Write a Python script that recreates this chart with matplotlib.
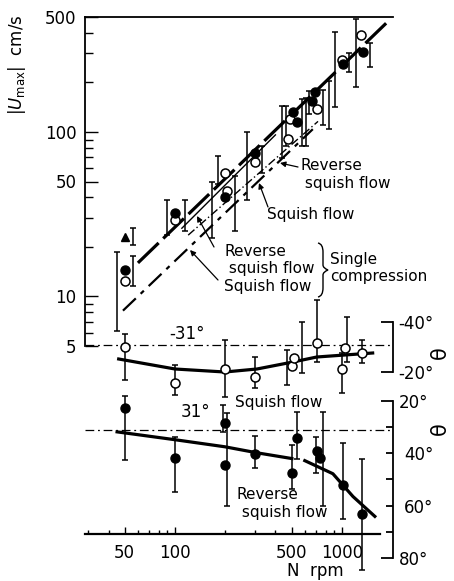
import matplotlib.pyplot as plt
from matplotlib.path import Path
from matplotlib.patches import PathPatch
from matplotlib.ticker import FixedLocator, FixedFormatter, NullFormatter, NullLocator

plt.rcParams['font.family'] = ['DejaVu Sans']
plt.rcParams['mathtext.fontset'] = 'dejavusans'

W, H = 454, 581

# |Umax| against engine speed: open = squish flow, filled = reverse squish flow
sq_n = [50, 100, 200, 205, 300, 476, 490, 708, 1000, 1300]
sq_u = [12.5, 29, 56, 43.5, 66, 91, 120, 137, 275, 390]
sq_bar_n = [45, 89, 181, 229, 332, 575, 608, 770, 905, 1210]
sq_lo = [6.2, 23.6, 48, 25, 56, 82, 82, 110, 141, 187]
sq_hi = [18.7, 38.4, 71, 54, 82, 158, 162, 181, 406, 487]

rv_n = [50, 100, 200, 300, 509, 538, 661, 688, 1013, 1335]
rv_u = [14.4, 32, 40.5, 74, 132, 115, 154, 174, 260, 307]
rv_bar_n = [56, 115, 166, 270, 437, 462, 640, 835, 1105, 1470]
rv_lo = [11.6, 25, 22.6, 38.4, 69, 82, 128, 104, 230, 250]
rv_hi = [17.6, 38.4, 50, 100, 143, 143, 178, 203, 303, 348]

tri_n = [50]
tri_u = [23]
tri_bar_n = [56]
tri_lo = [20.6]
tri_hi = [26]

# fitted lines (end points)
fit_rv_n, fit_rv_u = [60, 1850], [16, 460]
fit_sq_n, fit_sq_u = [120, 720], [23.6, 116]
single_rv_n, single_rv_u = [110, 400], [26, 96]
single_sq_n, single_sq_u = [48.8, 670], [8.2, 104]

# flow angle theta, squish flow
th_sq_n = [50, 100, 200, 300, 500, 520, 710, 1000, 1040, 1316]
th_sq = [-30, -15.6, -21.2, -18, -22.4, -25.6, -31.6, -21.2, -29.6, -27.6]
th_sq_bar_n = [50, 100, 200, 300, 470, 576, 710, 1000, 1070, 1316]
th_sq_lo = [-35.2, -22.8, -32.8, -26, -28.8, -40, -48.8, -27.6, -42, -32.8]
th_sq_hi = [-16.8, -10.8, -10, -13.6, -14.8, -19.6, -24, -11.6, -24, -23.6]
th_sq_fit_n = [46, 100, 199, 310, 509, 708, 1040, 1530]
th_sq_fit = [-25.2, -21.2, -20, -21.2, -24, -26, -26.8, -27.6]

# flow angle theta, reverse squish flow
th_rv_n = [50, 100, 200, 200, 300, 500, 540, 710, 740, 1020, 1330]
th_rv = [22.7, 41.7, 28.4, 44.3, 40.2, 47.4, 34, 39, 41.7, 52, 63.3]
th_rv_bar_n = [50, 100, 195, 205, 300, 500, 540, 700, 770, 1020, 1330]
th_rv_lo = [18, 33.7, 21.5, 24.6, 33.3, 36.7, 24.2, 33.7, 24.2, 36, 42]
th_rv_hi = [42.4, 54.6, 32, 60.3, 45.5, 53.8, 42.2, 47.4, 60.3, 65.2, 84.6]
th_rv_fit_a_n = [45, 100, 199, 310, 502]
th_rv_fit_a = [31.8, 34.8, 37.5, 39.8, 42]
th_rv_fit_b_n = [600, 884, 1166, 1577]
th_rv_fit_b = [42.8, 47.8, 56.5, 64.1]

TH_SQ_REF = -31
TH_RV_REF = 31
N_LIM = (28.9, 2026)


def box(x0, y0, x1, y1):
    return [x0 / W, 1 - y1 / H, (x1 - x0) / W, (y1 - y0) / H]


def fp(x, y):
    return (x / W, 1 - y / H)


def bars(ax, xb, lo, hi, lw=1.1):
    ax.errorbar(xb, lo, yerr=[[0] * len(lo), [h - l for l, h in zip(lo, hi)]],
                fmt='none', ecolor='black', elinewidth=lw, capsize=2.3,
                capthick=lw, zorder=2)


fig = plt.figure(figsize=(W / 100, H / 100), dpi=100)

# ---- upper panel: |Umax| ----
ax_u = fig.add_axes(box(85, 17, 393, 346))
ax_u.set_xscale('log')
ax_u.set_yscale('log')
ax_u.set_xlim(N_LIM)
ax_u.set_ylim(5, 500)
ax_u.patch.set_visible(False)
for s in ('right', 'bottom'):
    ax_u.spines[s].set_visible(False)
ax_u.spines['left'].set_linewidth(1.3)
ax_u.spines['top'].set_linewidth(1.3)
ax_u.xaxis.set_major_locator(NullLocator())
ax_u.xaxis.set_minor_locator(NullLocator())
ax_u.yaxis.set_major_locator(FixedLocator([5, 10, 50, 100, 500]))
ax_u.yaxis.set_major_formatter(FixedFormatter(['5', '10', '50', '100', '500']))
ax_u.yaxis.set_minor_locator(FixedLocator([6, 7, 8, 9, 20, 30, 40, 60, 70, 80, 90, 200, 300, 400]))
ax_u.yaxis.set_minor_formatter(NullFormatter())
ax_u.tick_params(axis='y', which='major', direction='in', length=9, width=1, labelsize=12, pad=6)
ax_u.tick_params(axis='y', which='minor', direction='in', length=6, width=1)

ax_u.plot(fit_rv_n, fit_rv_u, color='black', lw=2.3, ls=(0, (9, 2)), zorder=1)
ax_u.plot(fit_sq_n, fit_sq_u, color='black', lw=1.0, ls=(0, (6, 2, 1, 2)), zorder=1)
ax_u.plot(single_rv_n, single_rv_u, color='black', lw=1.0, zorder=1)
ax_u.plot(single_sq_n, single_sq_u, color='black', lw=1.6, ls=(0, (8, 3, 2, 3)), zorder=1)

bars(ax_u, sq_bar_n, sq_lo, sq_hi)
bars(ax_u, rv_bar_n, rv_lo, rv_hi)
bars(ax_u, tri_bar_n, tri_lo, tri_hi)
ax_u.plot(sq_n, sq_u, 'o', ms=6.5, mfc='white', mec='black', mew=1.1, zorder=3)
ax_u.plot(rv_n, rv_u, 'o', ms=6.5, color='black', zorder=4)
ax_u.plot(tri_n, tri_u, '^', ms=6, color='black', zorder=4)

# ---- middle panel: theta of squish flow ----
ax_s = fig.add_axes(box(85, 290, 393, 400))
ax_s.set_xscale('log')
ax_s.set_xlim(N_LIM)
ax_s.set_ylim(-8.8, -52.8)
ax_s.patch.set_visible(False)
for s in ('left', 'top', 'bottom'):
    ax_s.spines[s].set_visible(False)
ax_s.spines['right'].set_bounds(-40, -20)
ax_s.spines['right'].set_linewidth(1.3)
ax_s.xaxis.set_major_locator(NullLocator())
ax_s.xaxis.set_minor_locator(NullLocator())
ax_s.yaxis.tick_right()
ax_s.yaxis.set_major_locator(FixedLocator([-40, -20]))
ax_s.yaxis.set_major_formatter(FixedFormatter(['-40°', '-20°']))
ax_s.yaxis.set_minor_locator(NullLocator())
ax_s.tick_params(axis='y', direction='in', length=9, width=1.3, labelsize=12, pad=4)

ax_s.axhline(TH_SQ_REF, color='black', lw=0.9, ls=(0, (7, 3, 1.5, 3)), zorder=1)
ax_s.plot(th_sq_fit_n, th_sq_fit, color='black', lw=2.3, zorder=1)
bars(ax_s, th_sq_bar_n, th_sq_lo, th_sq_hi)
ax_s.plot(th_sq_n, th_sq, 'o', ms=6.5, mfc='white', mec='black', mew=1.1, zorder=3)

# ---- lower panel: theta of reverse squish flow, with the N axis ----
ax_r = fig.add_axes(box(85, 380, 393, 575))
ax_r.set_xscale('log')
ax_r.set_xlim(N_LIM)
ax_r.set_ylim(86.5, 11.98)
ax_r.patch.set_visible(False)
for s in ('left', 'top'):
    ax_r.spines[s].set_visible(False)
ax_r.spines['bottom'].set_position(('data', 70.8))
ax_r.spines['bottom'].set_bounds(28.9, 1690)
ax_r.spines['bottom'].set_linewidth(1.6)
ax_r.spines['right'].set_bounds(20, 80)
ax_r.spines['right'].set_linewidth(1.3)
ax_r.xaxis.set_major_locator(FixedLocator([50, 100, 500, 1000]))
ax_r.xaxis.set_major_formatter(FixedFormatter(['50', '100', '500', '1000']))
ax_r.xaxis.set_minor_locator(FixedLocator([30, 40, 60, 70, 80, 90, 200, 300, 400, 600, 700, 800, 900]))
ax_r.xaxis.set_minor_formatter(NullFormatter())
ax_r.tick_params(axis='x', which='major', direction='in', length=5, width=1, labelsize=12, pad=7)
ax_r.tick_params(axis='x', which='minor', direction='in', length=3, width=1)
ax_r.yaxis.tick_right()
ax_r.yaxis.set_major_locator(FixedLocator([20, 80]))
ax_r.yaxis.set_major_formatter(FixedFormatter(['20°', '80°']))
ax_r.yaxis.set_minor_locator(FixedLocator([30, 40, 50, 60, 70]))
ax_r.yaxis.set_minor_formatter(FixedFormatter(['', '40°', '', '60°', '']))
ax_r.tick_params(axis='y', which='major', direction='in', length=9, width=1.3, labelsize=12, pad=4)
ax_r.tick_params(axis='y', which='minor', direction='in', length=5, width=1.3, labelsize=12, pad=8)

ax_r.axhline(TH_RV_REF, color='black', lw=0.9, ls=(0, (7, 3, 1.5, 3)), zorder=1)
ax_r.plot(th_rv_fit_a_n, th_rv_fit_a, color='black', lw=2.3, zorder=1)
ax_r.plot(th_rv_fit_b_n, th_rv_fit_b, color='black', lw=2.3, zorder=1)
bars(ax_r, th_rv_bar_n, th_rv_lo, th_rv_hi)
ax_r.plot(th_rv_n, th_rv, 'o', ms=6.5, color='black', zorder=3)

# ---- labels ----
fig.text(*fp(17, 65), r'$|U_{\rm max}|$  cm/s', rotation=90, ha='center', va='center', fontsize=12)
fig.text(*fp(440, 353), 'θ', rotation=90, ha='center', va='center', fontsize=15)
fig.text(*fp(440, 429), 'θ', rotation=90, ha='center', va='center', fontsize=15)
fig.text(*fp(315, 571), 'N  rpm', ha='center', va='center', fontsize=12)

fig.text(*fp(187, 334), '-31°', ha='center', va='center', fontsize=12)
fig.text(*fp(195, 412), '31°', ha='center', va='center', fontsize=12)
fig.text(*fp(235, 402), 'Squish flow', ha='left', va='center', fontsize=11)
fig.text(*fp(237, 487), 'Reverse\n squish flow', ha='left', va='top', fontsize=11, linespacing=1.25)

fig.text(*fp(300, 158), 'Reverse\n squish flow', ha='left', va='top', fontsize=11, linespacing=1.25)
fig.text(*fp(267, 207), 'Squish flow', ha='left', va='top', fontsize=11)
fig.text(*fp(224, 244), 'Reverse\n squish flow\nSquish flow', ha='left', va='top', fontsize=11, linespacing=1.2)
fig.text(*fp(330, 252), 'Single\ncompression', ha='left', va='top', fontsize=11, linespacing=1.2)

arrow = dict(arrowstyle='-|>', color='black', lw=0.9, mutation_scale=8, shrinkA=0, shrinkB=0)
for tail, tip in [((298, 167), (280, 163)), ((268, 207), (259, 183)),
                  ((214, 247), (197, 216)), ((218, 280), (190, 250))]:
    fig.add_artist(plt.Annotation('', xy=fp(*tip), xytext=fp(*tail),
                                  xycoords='figure fraction', textcoords='figure fraction',
                                  arrowprops=arrow))

# curly brace grouping the single-compression labels
brace = [(318, 243), (323, 244), (323, 252), (323, 265), (323, 268), (328, 270),
         (323, 272), (323, 275), (323, 288), (323, 296), (318, 297)]
codes = [Path.MOVETO, Path.CURVE3, Path.CURVE3, Path.LINETO, Path.CURVE3, Path.CURVE3,
         Path.CURVE3, Path.CURVE3, Path.LINETO, Path.CURVE3, Path.CURVE3]
fig.add_artist(PathPatch(Path([fp(x, y) for x, y in brace], codes), fill=False, lw=1.0,
                         transform=fig.transFigure))

fig.savefig('out.png', dpi=100, facecolor='white')
